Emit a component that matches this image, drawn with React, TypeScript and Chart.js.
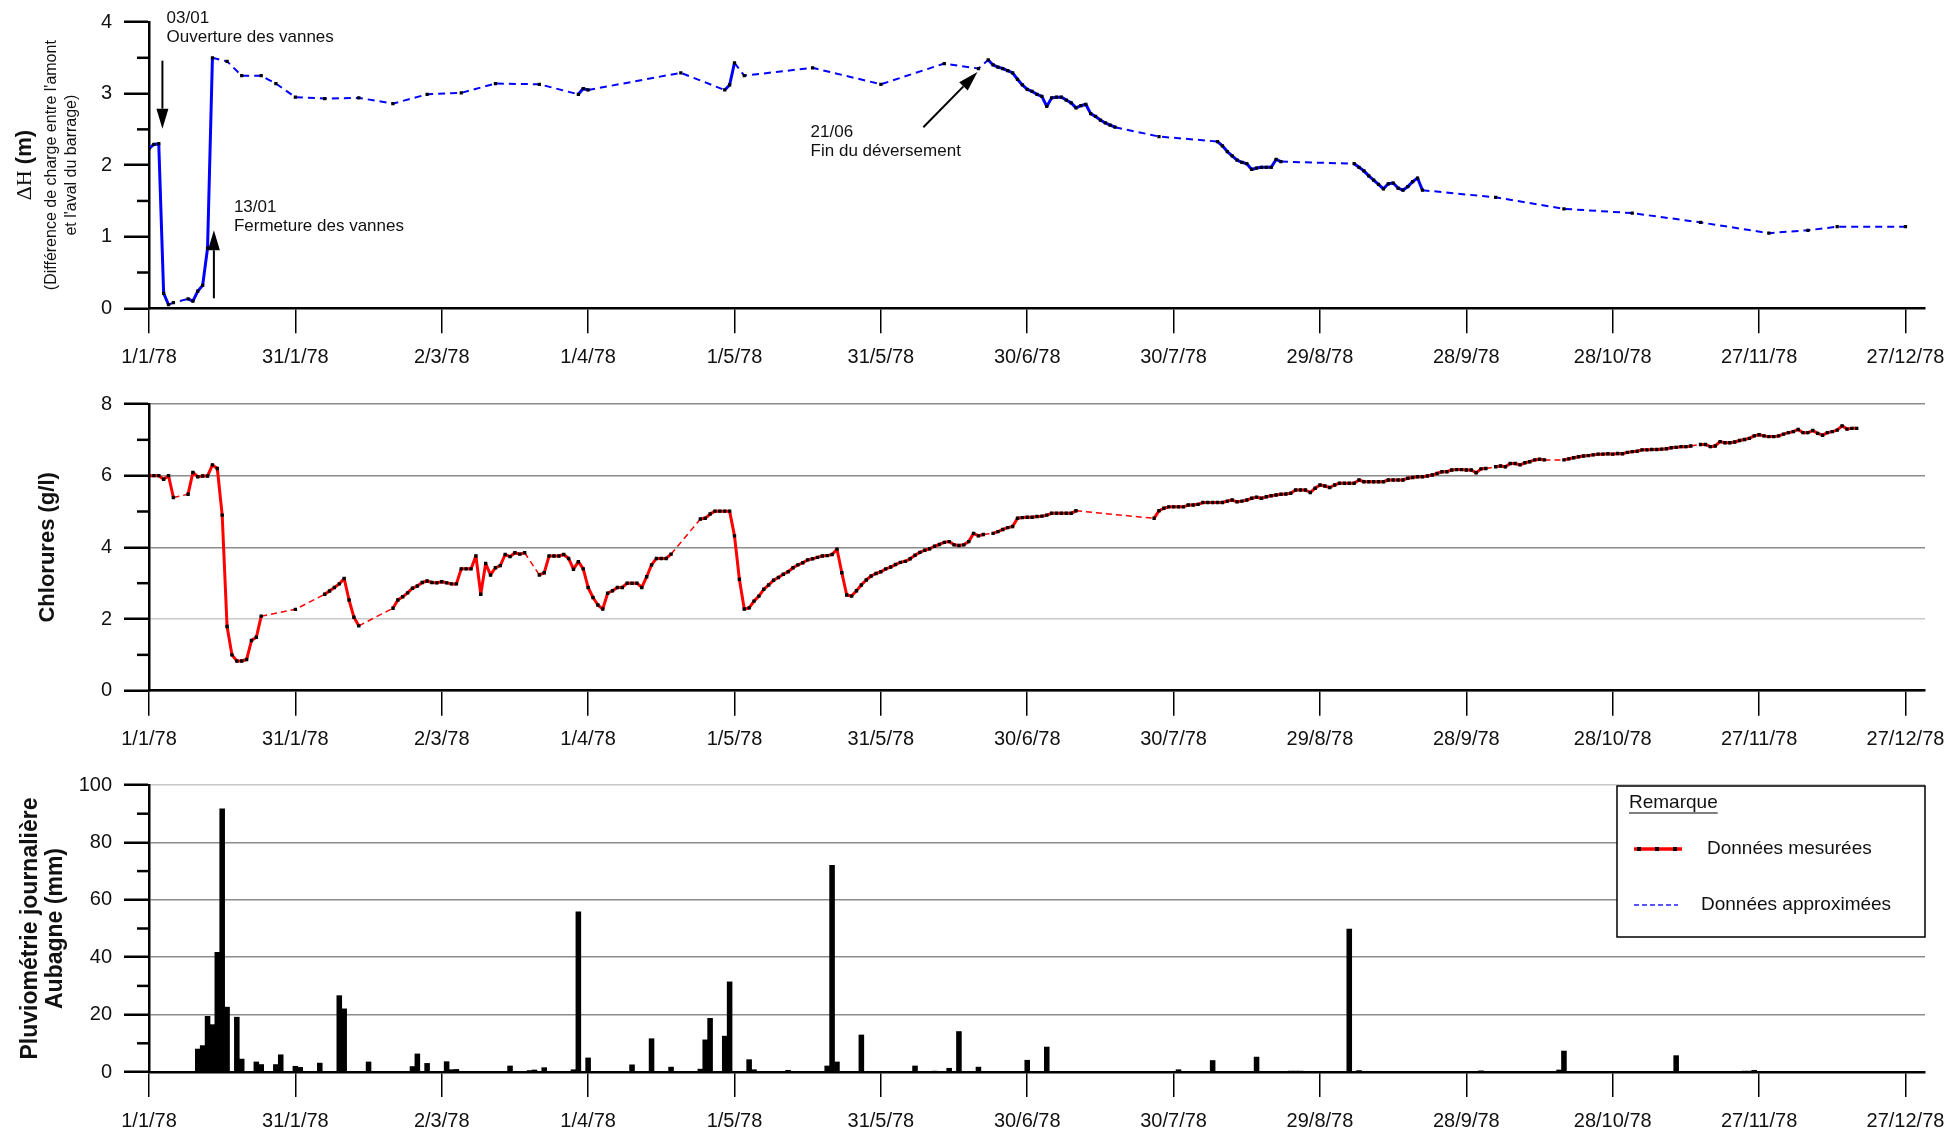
import React, { useEffect, useRef } from 'react';
import { Chart, registerables } from 'chart.js';

Chart.register(...registerables);

// ---------- shared x axis (days since 1/1/78) ----------
const tickDays = [0, 30, 60, 90, 120, 150, 180, 210, 240, 270, 300, 330, 360];
const tickLabels = ['1/1/78', '31/1/78', '2/3/78', '1/4/78', '1/5/78', '31/5/78', '30/6/78', '30/7/78', '29/8/78', '28/9/78', '28/10/78', '27/11/78', '27/12/78'];
const xMaxDay = 364;

// ---------- panel 1 : ΔH (m) ----------
const dhDays = [0, 1, 2, 3, 4, 5, 8, 9, 10, 11, 12, 13, 16, 19, 23, 26, 30, 36, 43, 50, 57, 64, 71, 80, 88, 89, 90, 109, 118, 119, 120, 122, 136, 150, 163, 170,
  172, 173, 174, 175, 176, 177, 178, 179, 180, 181, 182, 183, 184, 185, 186, 187, 188, 189, 190, 191, 192, 193, 194, 195, 196, 197, 198,
  207, 219, 220, 221, 222, 223, 224, 225, 226, 227, 228, 229, 230, 231, 232,
  247, 248, 249, 250, 251, 252, 253, 254, 255, 256, 257, 258, 259, 260, 261,
  276, 290, 304, 318, 332, 340, 346, 360];
const dhValues = [2.23, 2.29, 2.30, 0.21, 0.05, 0.08, 0.13, 0.10, 0.24, 0.32, 0.84, 3.50, 3.45, 3.25, 3.25, 3.14, 2.95, 2.93, 2.94, 2.86, 2.99, 3.01, 3.14, 3.13, 2.99, 3.07, 3.05, 3.29, 3.05, 3.12, 3.43, 3.25, 3.36, 3.13, 3.42, 3.35,
  3.47, 3.40, 3.37, 3.35, 3.32, 3.29, 3.20, 3.12, 3.06, 3.03, 2.99, 2.96, 2.82, 2.94, 2.95, 2.95, 2.91, 2.87, 2.80, 2.83, 2.85, 2.72, 2.68, 2.63, 2.59, 2.56, 2.53,
  2.40, 2.33, 2.27, 2.19, 2.13, 2.07, 2.04, 2.02, 1.94, 1.96, 1.97, 1.97, 1.97, 2.08, 2.05,
  2.02, 1.97, 1.92, 1.85, 1.79, 1.73, 1.67, 1.74, 1.75, 1.68, 1.65, 1.70, 1.77, 1.82, 1.65,
  1.55, 1.39, 1.33, 1.20, 1.05, 1.09, 1.14, 1.14];
const dhMeasuredRanges = [[0, 4], [8, 13], [88, 90], [118, 120], [172, 198], [219, 232], [247, 261]];
const dhMinorTicks = [0.5, 1.5, 2.5, 3.5];

// ---------- panel 2 : Chlorures (g/l) ----------
const clDays = [0, 1, 2, 3, 4, 5, 8, 9, 10, 11, 12, 13, 14, 15, 16, 17, 18, 19, 20, 21, 22, 23, 30, 36, 37, 38, 39, 40, 41, 42, 43,
  50, 51, 52, 53, 54, 55, 56, 57, 58, 59, 60, 61, 62, 63, 64, 65, 66, 67, 68, 69, 70, 71, 72, 73, 74, 75, 76, 77,
  80, 81, 82, 83, 84, 85, 86, 87, 88, 89, 90, 91, 92, 93, 94, 95, 96, 97, 98, 99, 100, 101, 102, 103, 104, 105, 106, 107,
  113, 114, 115, 116, 117, 118, 119, 120, 121, 122, 123, 124, 125, 126, 127, 128, 129, 130, 131, 132, 133, 134, 135, 136, 137, 138, 139, 140,
  141, 142, 143, 144, 145, 146, 147, 148, 149, 150, 151, 152, 153, 154, 155, 156, 157, 158, 159, 160, 161, 162, 163, 164, 165, 166, 167, 168, 169, 170, 171,
  173, 174, 175, 176, 177, 178, 179, 180, 181, 182, 183, 184, 185, 186, 187, 188, 189, 190,
  206, 207, 208, 209, 210, 211, 212, 213, 214, 215, 216, 217, 218, 219, 220, 221, 222, 223, 224, 225, 226, 227, 228, 229, 230,
  231, 232, 233, 234, 235, 236, 237, 238, 239, 240, 241, 242, 243, 244, 245, 246, 247, 248, 249, 250, 251, 252, 253, 254, 255,
  256, 257, 258, 259, 260, 261, 262, 263, 264, 265, 266, 267, 268, 269, 270, 271, 272, 273, 274,
  276, 277, 278, 279, 280, 281, 282, 283, 284, 285, 286,
  290, 291, 292, 293, 294, 295, 296, 297, 298, 299, 300, 301, 302, 303, 304, 305, 306, 307, 308, 309, 310, 311, 312, 313, 314, 315, 316,
  318, 319, 320, 321, 322, 323, 324, 325, 326, 327, 328, 329, 330, 331, 332, 333, 334, 335, 336, 337, 338, 339, 340,
  341, 342, 343, 344, 345, 346, 347, 348, 349, 350];
const clValues = [6.00, 6.00, 6.00, 5.90, 6.00, 5.39, 5.48, 6.09, 5.97, 5.99, 5.99, 6.30, 6.20, 4.90, 1.79, 1.00, 0.83, 0.83, 0.87, 1.40, 1.49, 2.08, 2.27, 2.69, 2.78, 2.88, 2.98, 3.13, 2.53, 2.05, 1.81,
  2.30, 2.53, 2.62, 2.73, 2.86, 2.92, 3.02, 3.06, 3.02, 3.01, 3.04, 3.01, 2.98, 2.98, 3.40, 3.40, 3.40, 3.76, 2.69, 3.55, 3.23, 3.43, 3.49, 3.80, 3.74, 3.85, 3.81, 3.85,
  3.23, 3.29, 3.76, 3.76, 3.76, 3.80, 3.69, 3.39, 3.60, 3.40, 2.88, 2.60, 2.39, 2.28, 2.72, 2.79, 2.88, 2.88, 3.00, 3.00, 3.00, 2.88, 3.18, 3.51, 3.69, 3.69, 3.69, 3.81,
  4.79, 4.81, 4.93, 5.01, 5.01, 5.01, 5.01, 4.32, 3.11, 2.28, 2.31, 2.50, 2.64, 2.83, 2.95, 3.08, 3.16, 3.25, 3.32, 3.43, 3.51, 3.57, 3.65, 3.68, 3.72, 3.76, 3.77, 3.80,
  3.95, 3.29, 2.67, 2.64, 2.79, 2.95, 3.09, 3.20, 3.27, 3.32, 3.40, 3.45, 3.52, 3.58, 3.61, 3.68, 3.78, 3.86, 3.92, 3.96, 4.03, 4.08, 4.14, 4.16, 4.07, 4.05, 4.07, 4.16, 4.39, 4.32, 4.36,
  4.39, 4.44, 4.50, 4.55, 4.58, 4.81, 4.83, 4.84, 4.84, 4.86, 4.87, 4.90, 4.95, 4.95, 4.95, 4.95, 4.95, 5.02,
  4.81, 5.02, 5.09, 5.13, 5.13, 5.13, 5.13, 5.18, 5.18, 5.20, 5.25, 5.25, 5.25, 5.25, 5.25, 5.29, 5.32, 5.27, 5.29, 5.32, 5.37, 5.40, 5.37, 5.41, 5.44,
  5.46, 5.48, 5.49, 5.51, 5.60, 5.60, 5.60, 5.53, 5.65, 5.74, 5.71, 5.67, 5.74, 5.79, 5.79, 5.79, 5.79, 5.88, 5.83, 5.83, 5.83, 5.83, 5.83, 5.88, 5.88,
  5.88, 5.88, 5.93, 5.95, 5.97, 5.97, 5.99, 6.02, 6.06, 6.11, 6.11, 6.16, 6.17, 6.17, 6.16, 6.16, 6.08, 6.19, 6.20,
  6.25, 6.27, 6.25, 6.34, 6.34, 6.30, 6.36, 6.39, 6.44, 6.46, 6.44,
  6.44, 6.47, 6.50, 6.53, 6.55, 6.56, 6.58, 6.60, 6.60, 6.61, 6.60, 6.62, 6.61, 6.65, 6.67, 6.68, 6.72, 6.72, 6.73, 6.73, 6.74, 6.75, 6.78, 6.79, 6.81, 6.81, 6.83,
  6.87, 6.87, 6.81, 6.83, 6.95, 6.92, 6.92, 6.94, 6.98, 7.01, 7.04, 7.11, 7.14, 7.11, 7.09, 7.09, 7.11, 7.16, 7.20, 7.23, 7.29, 7.20, 7.20,
  7.26, 7.18, 7.13, 7.20, 7.23, 7.27, 7.39, 7.30, 7.32, 7.32];
const clMeasuredRanges = [[0, 5], [8, 23], [36, 43], [50, 77], [80, 107], [113, 171], [173, 190], [206, 274], [276, 286], [290, 316], [318, 350]];
const clMinorTicks = [1, 3, 5, 7];

// ---------- panel 3 : Pluviométrie journalière (mm) ----------
const rainDays = [10, 11, 12, 13, 14, 15, 16, 18, 19, 22, 23, 26, 27, 30, 31, 35, 39, 40, 45, 54, 55, 57, 61, 62, 63, 74, 78, 79, 81, 87, 88, 90, 99,
  103, 107, 113, 114, 115, 118, 119, 123, 124, 131, 139, 140, 141, 146, 157, 161, 164, 166, 170, 180, 184, 211, 218, 227, 234, 235, 236,
  246, 248, 273, 289, 290, 313, 327, 328, 329];
const rainValues = [8.0, 9.2, 19.4, 16.5, 41.7, 91.7, 22.6, 19.1, 4.5, 3.5, 2.6, 2.6, 6.0, 2.0, 1.6, 3.1, 26.6, 22.0, 3.5, 1.9, 6.3, 3.0, 3.6, 0.8, 0.9, 2.1, 0.5, 0.7, 1.5, 0.8, 55.8, 4.9, 2.5,
  11.6, 1.7, 1.0, 11.2, 18.7, 12.5, 31.4, 4.3, 0.8, 0.6, 2.1, 72.0, 3.5, 12.9, 2.1, 0.3, 1.3, 14.1, 1.7, 4.1, 8.7, 0.8, 4.0, 5.2, 0.3, 0.3, 0.3,
  49.8, 0.5, 0.4, 0.7, 7.3, 5.7, 0.3, 0.3, 0.6];
const rainMinorTicks = [10, 30, 50, 70, 90];

const FONT = "'Liberation Sans', Arial, Helvetica, sans-serif";
const SERIF = "'Liberation Serif', 'Times New Roman', serif";
const W = 1948;
const PLOT_LEFT = 149;
const PLOT_RIGHT_PAD = 23;

const inRanges = (a: number, b: number, ranges: number[][]) => ranges.some(([s, e]) => a >= s && b <= e);

function xScaleCfg(axisHeight: number) {
  return {
    type: 'linear',
    min: 0,
    max: xMaxDay,
    offset: false,
    afterBuildTicks: (axis: any) => { axis.ticks = tickDays.map((v) => ({ value: v })); },
    afterFit: (axis: any) => { axis.height = axisHeight; axis.paddingLeft = 0; axis.paddingRight = 0; },
    ticks: {
      autoSkip: false, maxRotation: 0, minRotation: 0, padding: 12,
      font: { family: FONT, size: 20 }, color: '#111',
      callback: (_v: any, i: number) => tickLabels[i],
    },
    grid: { offset: false, drawOnChartArea: false, drawTicks: true, tickLength: 25, color: '#000', tickColor: '#000', tickWidth: 1.5, lineWidth: 1.5 },
    border: { display: true, color: '#000', width: 2.5 },
  };
}

function yScaleCfg(max: number, step: number, gridOn: boolean, lightValue: number) {
  return {
    type: 'linear',
    min: 0,
    max,
    afterFit: (axis: any) => { axis.width = PLOT_LEFT; axis.paddingTop = 0; axis.paddingBottom = 0; },
    ticks: { stepSize: step, padding: 12, font: { family: FONT, size: 20 }, color: '#111' },
    grid: {
      drawOnChartArea: gridOn, drawTicks: true, tickLength: 25, tickColor: '#000', tickWidth: 2.5, lineWidth: 1.5,
      color: (ctx: any) => (ctx.tick && ctx.tick.value === lightValue ? '#c8c8c8' : '#8c8c8c'),
    },
    border: { display: true, color: '#000', width: 2.5 },
  };
}

function minorTicksPlugin(values: number[]) {
  return {
    id: 'minorTicks',
    afterDraw(chart: any) {
      const { ctx, chartArea } = chart;
      const y = chart.scales.y;
      ctx.save();
      ctx.strokeStyle = '#000';
      ctx.lineWidth = 2.5;
      values.forEach((v) => {
        const py = y.getPixelForValue(v);
        ctx.beginPath();
        ctx.moveTo(chartArea.left - 12, py);
        ctx.lineTo(chartArea.left, py);
        ctx.stroke();
      });
      ctx.restore();
    },
  };
}

function drawRotated(ctx: CanvasRenderingContext2D, parts: { text: string; font: string }[], cx: number, cy: number) {
  ctx.save();
  ctx.translate(cx, cy);
  ctx.rotate(-Math.PI / 2);
  ctx.textBaseline = 'middle';
  ctx.textAlign = 'left';
  ctx.fillStyle = '#111';
  let total = 0;
  const widths = parts.map((p) => { ctx.font = p.font; const w = ctx.measureText(p.text).width; total += w; return w; });
  let x = -total / 2;
  parts.forEach((p, i) => { ctx.font = p.font; ctx.fillText(p.text, x, 0); x += widths[i]; });
  ctx.restore();
}

function drawArrow(ctx: CanvasRenderingContext2D, x0: number, y0: number, x1: number, y1: number) {
  const ang = Math.atan2(y1 - y0, x1 - x0);
  const head = 20;
  const half = 6;
  const bx = x1 - head * Math.cos(ang);
  const by = y1 - head * Math.sin(ang);
  ctx.save();
  ctx.strokeStyle = '#000';
  ctx.fillStyle = '#000';
  ctx.lineWidth = 2;
  ctx.beginPath();
  ctx.moveTo(x0, y0);
  ctx.lineTo(bx, by);
  ctx.stroke();
  ctx.beginPath();
  ctx.moveTo(x1, y1);
  ctx.lineTo(bx + half * Math.sin(ang), by - half * Math.cos(ang));
  ctx.lineTo(bx - half * Math.sin(ang), by + half * Math.cos(ang));
  ctx.closePath();
  ctx.fill();
  ctx.restore();
}

const dhNotes = [
  { day: 3.6, value: 4.05, lines: ['03/01', 'Ouverture des vannes'] },
  { day: 17.4, value: 1.41, lines: ['13/01', 'Fermeture des vannes'] },
  { day: 135.6, value: 2.46, lines: ['21/06', 'Fin du déversement'] },
];
const dhArrows = [
  { from: [2.75, 3.46], to: [2.75, 2.51] },
  { from: [13.3, 0.14], to: [13.3, 1.09] },
  { from: [158.7, 2.53], to: [169.8, 3.30] },
];

const topOverlay = {
  id: 'topOverlay',
  afterDraw(chart: any) {
    const { ctx, chartArea } = chart;
    const xs = chart.scales.x;
    const ys = chart.scales.y;
    const cy = (chartArea.top + chartArea.bottom) / 2;
    drawRotated(ctx, [{ text: 'ΔH', font: `22px ${SERIF}` }, { text: ' (m)', font: `bold 22px ${FONT}` }], 25, cy);
    drawRotated(ctx, [{ text: "(Différence de charge entre l'amont", font: `16px ${FONT}` }], 52, cy);
    drawRotated(ctx, [{ text: "et l'aval du barrage)", font: `16px ${FONT}` }], 72, cy);
    ctx.save();
    ctx.font = `17px ${FONT}`;
    ctx.fillStyle = '#111';
    ctx.textBaseline = 'middle';
    ctx.textAlign = 'left';
    dhNotes.forEach((n) => {
      const px = xs.getPixelForValue(n.day);
      const py = ys.getPixelForValue(n.value);
      n.lines.forEach((l, i) => ctx.fillText(l, px, py + i * 19));
    });
    ctx.restore();
    dhArrows.forEach((a) => {
      drawArrow(ctx, xs.getPixelForValue(a.from[0]), ys.getPixelForValue(a.from[1]), xs.getPixelForValue(a.to[0]), ys.getPixelForValue(a.to[1]));
    });
  },
};

const midOverlay = {
  id: 'midOverlay',
  afterDraw(chart: any) {
    const { ctx, chartArea } = chart;
    const cy = (chartArea.top + chartArea.bottom) / 2;
    drawRotated(ctx, [{ text: 'Chlorures (g/l)', font: `bold 22px ${FONT}` }], 48, cy);
  },
};

const botOverlay = {
  id: 'botOverlay',
  afterDraw(chart: any) {
    const { ctx, chartArea } = chart;
    const cy = (chartArea.top + chartArea.bottom) / 2;
    drawRotated(ctx, [{ text: 'Pluviométrie journalière', font: `bold 23px ${FONT}` }], 31, cy);
    drawRotated(ctx, [{ text: 'Aubagne (mm)', font: `bold 23px ${FONT}` }], 56, cy);

    // legend box ("Remarque")
    const right = chartArea.right;
    const left = right - 308;
    const top = chartArea.top + 1;
    const h = 151;
    ctx.save();
    ctx.fillStyle = '#fff';
    ctx.fillRect(left, top, right - left, h);
    ctx.strokeStyle = '#000';
    ctx.lineWidth = 1.5;
    ctx.strokeRect(left, top, right - left, h);
    ctx.fillStyle = '#111';
    ctx.font = `19px ${FONT}`;
    ctx.textBaseline = 'middle';
    ctx.textAlign = 'left';
    const rx = left + 12;
    const ry = top + 17;
    ctx.fillText('Remarque', rx, ry);
    const rw = ctx.measureText('Remarque').width;
    ctx.lineWidth = 1.2;
    ctx.beginPath();
    ctx.moveTo(rx, ry + 10);
    ctx.lineTo(rx + rw, ry + 10);
    ctx.stroke();

    const l1 = top + 63;
    ctx.strokeStyle = '#ff0000';
    ctx.lineWidth = 3.5;
    ctx.beginPath();
    ctx.moveTo(left + 17, l1);
    ctx.lineTo(left + 65, l1);
    ctx.stroke();
    ctx.fillStyle = '#000';
    [22, 40, 58].forEach((dx) => ctx.fillRect(left + dx - 2, l1 - 2, 4, 4));
    ctx.fillStyle = '#111';
    ctx.fillText('Données mesurées', left + 90, l1);

    const l2 = top + 119;
    ctx.strokeStyle = '#2020ff';
    ctx.lineWidth = 1.5;
    ctx.setLineDash([5, 3]);
    ctx.beginPath();
    ctx.moveTo(left + 17, l2);
    ctx.lineTo(left + 61, l2);
    ctx.stroke();
    ctx.setLineDash([]);
    ctx.fillText('Données approximées', left + 84, l2);
    ctx.restore();
  },
};

function lineDataset(days: number[], values: number[], ranges: number[][], color: string, solidW: number, dashW: number, dash: number[], pr: number) {
  return {
    type: 'line',
    data: days.map((d, i) => ({ x: d, y: values[i] })),
    borderColor: color,
    borderWidth: solidW,
    tension: 0,
    borderJoinStyle: 'round',
    pointStyle: 'rect',
    pointRadius: pr,
    pointBackgroundColor: '#000',
    pointBorderWidth: 0,
    pointHoverRadius: pr,
    segment: {
      borderDash: (ctx: any) => (inRanges(ctx.p0.parsed.x, ctx.p1.parsed.x, ranges) ? undefined : dash),
      borderWidth: (ctx: any) => (inRanges(ctx.p0.parsed.x, ctx.p1.parsed.x, ranges) ? solidW : dashW),
    },
  };
}

const basePlugins = { legend: { display: false }, tooltip: { enabled: false } };

export default function App() {
  const topRef = useRef<HTMLCanvasElement>(null);
  const midRef = useRef<HTMLCanvasElement>(null);
  const botRef = useRef<HTMLCanvasElement>(null);

  useEffect(() => {
    const charts: Chart[] = [];
    const top = new Chart(topRef.current as HTMLCanvasElement, {
      type: 'line',
      data: { datasets: [lineDataset(dhDays, dhValues, dhMeasuredRanges, '#0000ff', 3, 2, [7, 5], 2.3) as any] },
      options: {
        responsive: false, animation: false, events: [],
        layout: { padding: { left: 0, top: 22, right: PLOT_RIGHT_PAD, bottom: 0 } },
        scales: { x: xScaleCfg(71.7) as any, y: yScaleCfg(4, 1, false, -1) as any },
        plugins: basePlugins as any,
      },
      plugins: [minorTicksPlugin(dhMinorTicks), topOverlay],
    });
    charts.push(top);

    const mid = new Chart(midRef.current as HTMLCanvasElement, {
      type: 'line',
      data: { datasets: [lineDataset(clDays, clValues, clMeasuredRanges, '#ff0000', 3, 1.5, [6, 4], 2.4) as any] },
      options: {
        responsive: false, animation: false, events: [],
        layout: { padding: { left: 0, top: 24, right: PLOT_RIGHT_PAD, bottom: 0 } },
        scales: { x: xScaleCfg(69.3) as any, y: yScaleCfg(8, 2, true, 2) as any },
        plugins: basePlugins as any,
      },
      plugins: [minorTicksPlugin(clMinorTicks), midOverlay],
    });
    charts.push(mid);

    const bot = new Chart(botRef.current as HTMLCanvasElement, {
      type: 'bar',
      data: {
        datasets: [{
          data: rainDays.map((d, i) => ({ x: d, y: rainValues[i] })),
          backgroundColor: '#000',
          borderWidth: 0,
          barThickness: 4.9,
        } as any],
      },
      options: {
        responsive: false, animation: false, events: [],
        layout: { padding: { left: 0, top: 25, right: PLOT_RIGHT_PAD, bottom: 0 } },
        scales: { x: xScaleCfg(59) as any, y: yScaleCfg(100, 20, true, 100) as any },
        plugins: basePlugins as any,
      },
      plugins: [minorTicksPlugin(rainMinorTicks), botOverlay],
    });
    charts.push(bot);

    return () => { charts.forEach((c) => c.destroy()); };
  }, []);

  return (
    <div style={{ position: 'absolute', left: 0, top: 0, width: W, height: 1131, background: '#fff' }}>
      <canvas ref={topRef} width={W} height={380} style={{ position: 'absolute', left: 0, top: 0, width: W, height: 380 }} />
      <canvas ref={midRef} width={W} height={380} style={{ position: 'absolute', left: 0, top: 380, width: W, height: 380 }} />
      <canvas ref={botRef} width={W} height={371} style={{ position: 'absolute', left: 0, top: 760, width: W, height: 371 }} />
    </div>
  );
}
